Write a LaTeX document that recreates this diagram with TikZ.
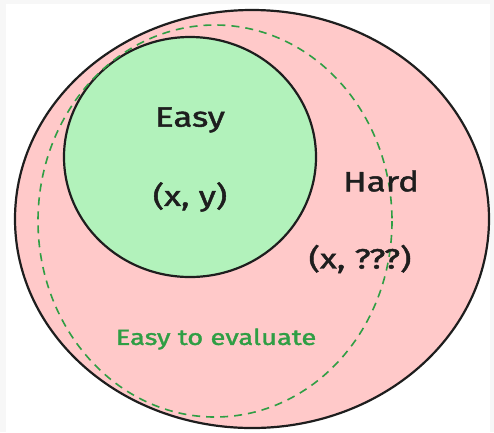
\documentclass[tikz,border=0pt]{standalone}
\usepackage{fontspec}
\setmainfont{Fira Sans}
\newfontfamily\handfont[FakeStretch=1.25, FakeBold=1.6]{Fira Sans}
\definecolor{strokeC}{HTML}{1E1E1E}
\definecolor{pinkC}{HTML}{FFC9C9}
\definecolor{greenC}{HTML}{B2F2BB}
\definecolor{dashC}{HTML}{2F9E44}
\definecolor{frameC}{HTML}{F7F7F7}
\tikzset{
  setbox/.style={draw=strokeC, line width=2.2bp},
  dashring/.style={draw=dashC, line width=1.6bp, dash pattern=on 8bp off 6bp},
  bigtxt/.style={text=strokeC, font=\handfont\fontsize{28}{32}\selectfont, inner sep=0pt},
  greentxt/.style={text=dashC, font=\handfont\fontsize{22}{26}\selectfont, inner sep=0pt},
}
\begin{document}
\begin{tikzpicture}[x=1bp, y=-1bp]
\useasboundingbox (0,0) rectangle (494,432);
\fill[frameC] (0,0) rectangle (494,432);
\fill[white] (6,4) rectangle (490,432);
% outer (Hard) region
\path[setbox, fill=pinkC] (252,219) ellipse [x radius=237, y radius=209];
% inner (Easy) region
\path[setbox, fill=greenC] (190,157) ellipse [x radius=126, y radius=120];
% dashed (Easy to evaluate) boundary
\path[dashring] (215,221) ellipse [x radius=177, y radius=196];
% labels
\node[bigtxt] (easy) at (190,120) {Easy};
\node[bigtxt] (xy) at (190,197) {(x, y)};
\node[bigtxt] (hard) at (381,181) {Hard};
\node[bigtxt] (xq) at (360,259) {(x, ???)};
\node[greentxt] (eval) at (216,339) {Easy to evaluate};
\end{tikzpicture}
\end{document}
